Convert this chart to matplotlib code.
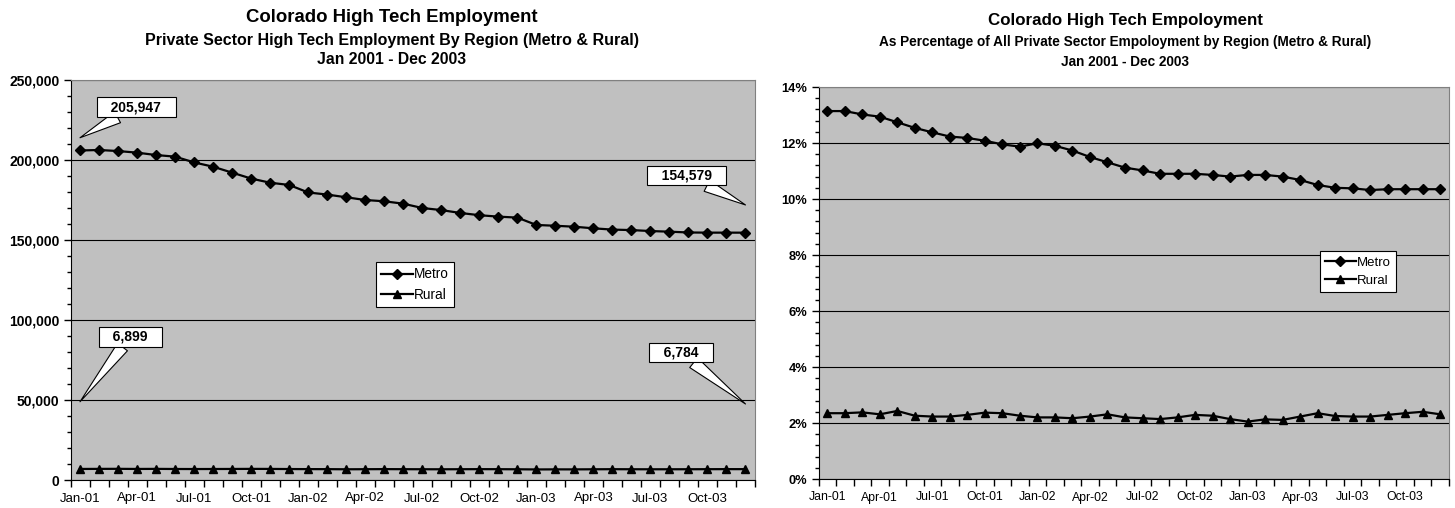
import numpy as np
import matplotlib
matplotlib.use("Agg")
import matplotlib.pyplot as plt
from matplotlib.ticker import FuncFormatter, MultipleLocator, AutoMinorLocator

plt.rcParams['font.family'] = ['Liberation Sans', 'DejaVu Sans']

# month categories Jan-01 .. Dec-03
months = [f"{m}-{y:02d}" for y in (1, 2, 3)
          for m in ["Jan", "Feb", "Mar", "Apr", "May", "Jun",
                    "Jul", "Aug", "Sep", "Oct", "Nov", "Dec"]]
tick_labels = ["Jan-01", "Apr-01", "Jul-01", "Oct-01", "Jan-02", "Apr-02",
               "Jul-02", "Oct-02", "Jan-03", "Apr-03", "Jul-03", "Oct-03"]

# high tech employment (jobs)
metro_jobs = [205947, 206250, 205600, 204600, 203100, 202100, 198500, 195800,
              192100, 188400, 185800, 184400, 179700, 178400, 176700, 175000,
              174200, 172700, 170000, 168700, 166900, 165500, 164600, 164000,
              159400, 158900, 158300, 157300, 156500, 156200, 155600, 155200,
              154700, 154600, 154600, 154579]
rural_jobs = [6899, 6950, 6980, 6900, 6950, 6880, 6850, 6870, 6900, 6950,
              6920, 6850, 6800, 6780, 6700, 6750, 6800, 6760, 6720, 6700,
              6740, 6780, 6760, 6700, 6600, 6650, 6640, 6700, 6760, 6720,
              6700, 6710, 6730, 6760, 6790, 6784]

# high tech share of all private sector employment (%)
metro_pct = [13.14, 13.14, 13.02, 12.94, 12.74, 12.54, 12.38, 12.23, 12.18,
             12.08, 11.95, 11.87, 11.99, 11.90, 11.73, 11.50, 11.31, 11.12,
             11.02, 10.90, 10.90, 10.90, 10.86, 10.80, 10.86, 10.86, 10.80,
             10.68, 10.50, 10.40, 10.38, 10.32, 10.35, 10.35, 10.35, 10.35]
rural_pct = [2.35, 2.35, 2.38, 2.31, 2.43, 2.26, 2.23, 2.23, 2.29, 2.37,
             2.35, 2.26, 2.20, 2.20, 2.17, 2.23, 2.31, 2.20, 2.17, 2.14,
             2.20, 2.29, 2.26, 2.14, 2.05, 2.13, 2.11, 2.23, 2.35, 2.25,
             2.23, 2.23, 2.29, 2.35, 2.40, 2.31]

W, H = 1455, 508
fig = plt.figure(figsize=(W / 100, H / 100), dpi=100)


def px_axes(l, t, r, b):
    return fig.add_axes([l / W, 1 - b / H, (r - l) / W, (b - t) / H])


def style(ax, fs):
    ax.set_facecolor('#C0C0C0')
    ax.set_xlim(-0.5, len(months) - 0.5)
    for s in ['top', 'right']:
        ax.spines[s].set_color('#808080')
    for s in ['left', 'bottom']:
        ax.spines[s].set_color('black')
    ax.yaxis.grid(True, color='black', lw=0.8)
    ax.set_axisbelow(True)
    ax.set_xticks(range(0, len(months), 3))
    ax.set_xticklabels(tick_labels, fontsize=fs)
    ax.set_xticks(np.arange(-0.5, len(months)), minor=True)
    ax.tick_params(axis='x', which='major', length=0, pad=9)
    ax.tick_params(axis='x', which='minor', length=5, width=1, direction='out')
    ax.yaxis.set_minor_locator(AutoMinorLocator(5))
    ax.tick_params(axis='y', which='major', length=5, width=1, pad=3)
    ax.tick_params(axis='y', which='minor', length=3, width=1)
    for lab in ax.get_yticklabels():
        lab.set_fontweight('bold')
        lab.set_fontsize(fs + 0.5)


def plot_series(ax, metro, rural, legend_xy, fs):
    x = np.arange(len(months))
    ax.plot(x, metro, color='black', lw=1.6, marker='D', ms=5.5, label='Metro')
    ax.plot(x, rural, color='black', lw=1.6, marker='^', ms=6, label='Rural')
    leg = ax.legend(loc='upper left', bbox_to_anchor=legend_xy,
                    bbox_transform=fig.transFigure, fontsize=fs,
                    fancybox=False, framealpha=1, edgecolor='black',
                    handlelength=2.3, handletextpad=0.1, borderpad=0.4,
                    labelspacing=0.45, borderaxespad=0)
    leg.get_frame().set_linewidth(0.8)


def callout(ax, text, xy, xytext):
    ax.annotate(f"   {text}   ", xy=xy, xytext=xytext, ha='center', va='center',
                fontsize=10, fontweight='bold', zorder=6,
                bbox=dict(boxstyle='square,pad=0.2', fc='white', ec='black', lw=0.8),
                arrowprops=dict(arrowstyle='wedge,tail_width=0.9,shrink_factor=0.5',
                                fc='white', ec='black', lw=0.8, shrinkA=0, shrinkB=0))


# left chart: employment counts
ax1 = px_axes(70.5, 80, 755, 480)
plot_series(ax1, metro_jobs, rural_jobs, (376 / W, 1 - 262 / H), 9.8)
ax1.set_ylim(0, 250000)
ax1.yaxis.set_major_locator(MultipleLocator(50000))
ax1.yaxis.set_major_formatter(FuncFormatter(lambda v, p: f"{v:,.0f}"))
style(ax1, 9.5)
callout(ax1, f"{metro_jobs[0]:,}", (0, 213900), (2.95, 233100))
callout(ax1, f"{metro_jobs[-1]:,}", (35, 171900), (31.9, 190300))
callout(ax1, f"{rural_jobs[0]:,}", (0, 48900), (2.65, 89500))
callout(ax1, f"{rural_jobs[-1]:,}", (35, 47500), (31.6, 79700))

fig.text(392 / W, 1 - 18 / H, "Colorado High Tech Employment",
         ha='center', va='center', fontsize=13.4, fontweight='bold')
fig.text(392 / W, 1 - 40 / H,
         "Private Sector High Tech Employment By Region (Metro & Rural)",
         ha='center', va='center', fontsize=11.5, fontweight='bold')
fig.text(392 / W, 1 - 60 / H, "Jan 2001 - Dec 2003",
         ha='center', va='center', fontsize=11.3, fontweight='bold')

# right chart: share of private sector employment
ax2 = px_axes(818.5, 87, 1449, 479)
plot_series(ax2, metro_pct, rural_pct, (1320 / W, 1 - 251 / H), 9.5)
ax2.set_ylim(0, 14)
ax2.yaxis.set_major_locator(MultipleLocator(2))
ax2.yaxis.set_major_formatter(FuncFormatter(lambda v, p: f"{v:.0f}%"))
style(ax2, 8.8)

fig.text(1125 / W, 1 - 21 / H, "Colorado High Tech Empoloyment",
         ha='center', va='center', fontsize=12.2, fontweight='bold')
fig.text(1125 / W, 1 - 42 / H,
         "As Percentage of All Private Sector Empoloyment by Region (Metro & Rural)",
         ha='center', va='center', fontsize=9.8, fontweight='bold')
fig.text(1125 / W, 1 - 62 / H, "Jan 2001 - Dec 2003",
         ha='center', va='center', fontsize=9.8, fontweight='bold')

fig.savefig("out.png", dpi=100)
